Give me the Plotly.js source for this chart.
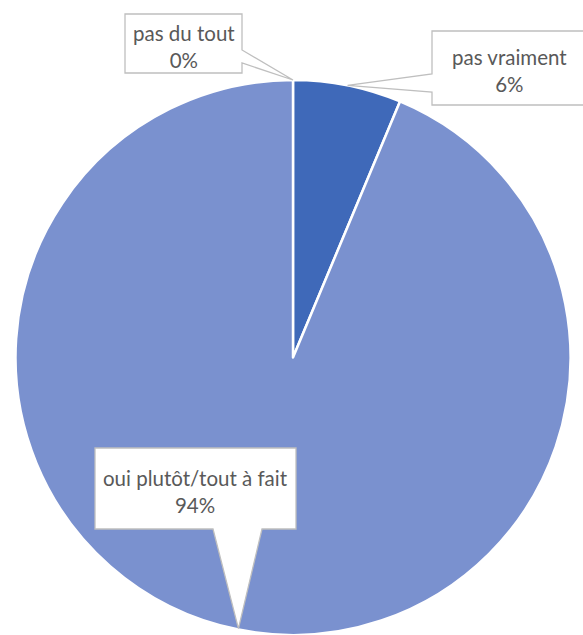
<!DOCTYPE html>
<html>
<head>
<meta charset="utf-8">
<script src="https://cdn.plot.ly/plotly-3.0.1.min.js"></script>
<style>html,body{margin:0;padding:0;background:#fff;}#chart{width:583px;height:635px;}</style>
</head>
<body>
<div id="chart"></div>
<script>
// Data
var categories = ["pas du tout", "pas vraiment", "oui plutôt/tout à fait"];
var values = [0, 6.3, 93.7];
var colors = ["#2F5597", "#3F69B9", "#7A91CF"];

// Layout geometry (pixels)
var W = 583, H = 635;
var M = {l: 15, r: 12, t: 80, b: 0};
var pw = W - M.l - M.r, ph = H - M.t - M.b;
var R = Math.min(pw, ph) / 2;
var cx = M.l + pw / 2, cy = M.t + ph / 2;
function X(px) { return (px - M.l) / pw; }
function Y(py) { return (H - M.b - py) / ph; }

// tip points at slice mid-angles (clockwise from 12 o'clock)
var total = values.reduce(function(a, b) { return a + b; }, 0);
var cum = 0, tips = [], pcts = [];
values.forEach(function(v) {
  var mid = (cum + v / 2) / total * 2 * Math.PI;
  tips.push([cx + R * Math.sin(mid), cy - R * Math.cos(mid)]);
  pcts.push(Math.round(v / total * 100) + "%");
  cum += v;
});

// Callout boxes (style/positions): box + pointer base
var boxes = [
  {x0: 125, x1: 242, y0: 14, y1: 73, side: "right", b0: 50, b1: 63},
  {x0: 432, x1: 592, y0: 31, y1: 105, side: "left", b0: 74, b1: 92, tx: 509.5},
  {x0: 95, x1: 296, y0: 448, y1: 529, side: "bottom", b0: 213, b1: 262}
];

function P(px, py) { return X(px).toFixed(5) + "," + Y(py).toFixed(5); }

var shapes = [], annotations = [];
boxes.forEach(function(b, i) {
  var t = tips[i], d;
  if (b.side === "right") {
    d = "M" + P(b.x0, b.y0) + " L" + P(b.x1, b.y0) + " L" + P(b.x1, b.b0) + " L" + P(t[0], t[1]) +
        " L" + P(b.x1, b.b1) + " L" + P(b.x1, b.y1) + " L" + P(b.x0, b.y1) + " Z";
  } else if (b.side === "left") {
    d = "M" + P(b.x0, b.y0) + " L" + P(b.x1, b.y0) + " L" + P(b.x1, b.y1) + " L" + P(b.x0, b.y1) +
        " L" + P(b.x0, b.b1) + " L" + P(t[0], t[1]) + " L" + P(b.x0, b.b0) + " Z";
  } else {
    d = "M" + P(b.x0, b.y0) + " L" + P(b.x1, b.y0) + " L" + P(b.x1, b.y1) + " L" + P(b.b1, b.y1) +
        " L" + P(t[0], t[1] - 1) + " L" + P(b.b0, b.y1) + " L" + P(b.x0, b.y1) + " Z";
  }
  shapes.push({type: "path", xref: "paper", yref: "paper", path: d,
    fillcolor: "#FFFFFF", line: {color: "#BFBFBF", width: 1.3}, layer: "above"});
  var tx = b.tx !== undefined ? b.tx : (b.x0 + b.x1) / 2;
  annotations.push({xref: "paper", yref: "paper", x: X(tx), y: Y((b.y0 + b.y1) / 2 + 3),
    xanchor: "center", yanchor: "middle", showarrow: false, align: "center",
    text: categories[i] + "<br>" + pcts[i],
    font: {family: "Lato, 'Liberation Sans', sans-serif", size: 20.5, color: "#595959"}});
});

var data = [{
  type: "pie",
  labels: categories,
  values: values,
  sort: false,
  direction: "clockwise",
  rotation: 0,
  textinfo: "none",
  hoverinfo: "none",
  marker: {colors: colors, line: {color: "#FFFFFF", width: 2.5}},
  domain: {x: [0, 1], y: [0, 1]},
  showlegend: false
}];

var layout = {
  width: W, height: H,
  margin: M,
  paper_bgcolor: "#FFFFFF",
  showlegend: false,
  shapes: shapes,
  annotations: annotations
};

Plotly.newPlot("chart", data, layout, {staticPlot: true, displayModeBar: false});
</script>
</body>
</html>
